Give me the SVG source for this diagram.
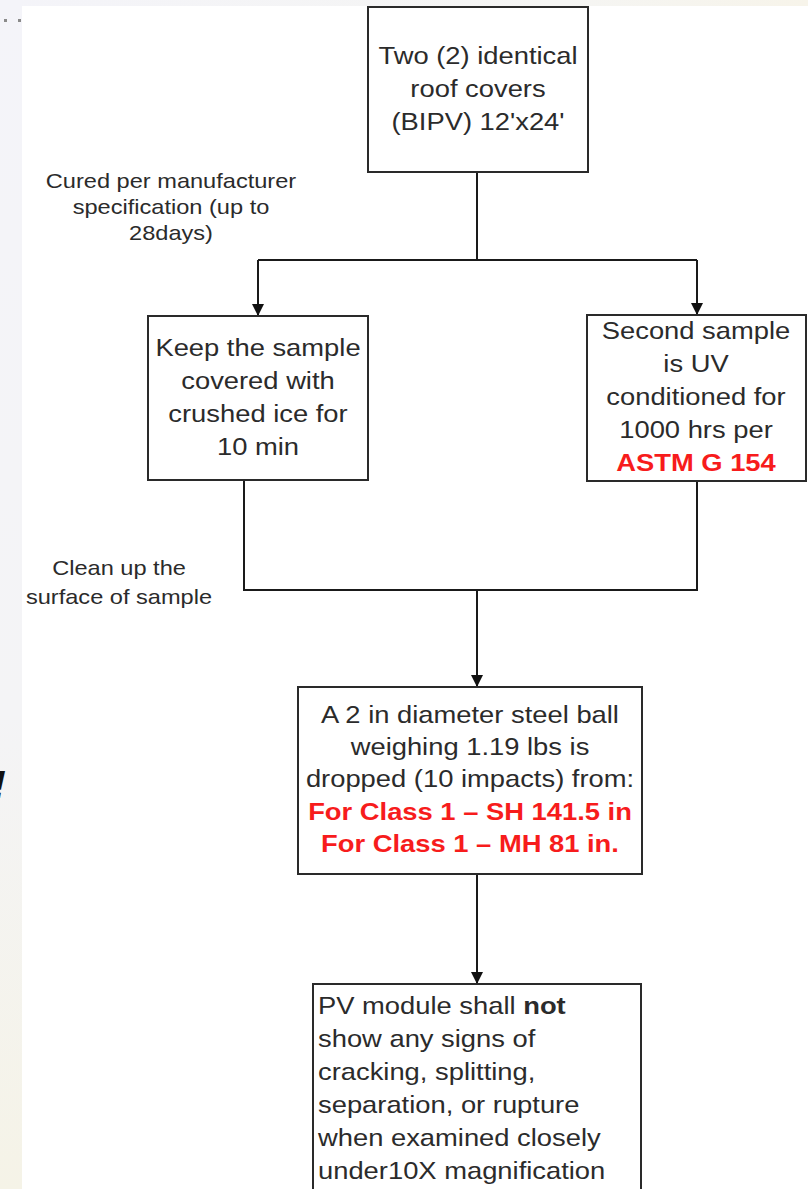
<svg xmlns="http://www.w3.org/2000/svg" width="808" height="1189" viewBox="0 0 808 1189">
<defs>
<linearGradient id="leftbg" x1="0" y1="0" x2="0" y2="1">
<stop offset="0" stop-color="#f4f4f9"/>
<stop offset="0.6" stop-color="#f4f4f6"/>
<stop offset="1" stop-color="#f5f3e7"/>
</linearGradient>
<linearGradient id="topbg" x1="0" y1="0" x2="1" y2="0">
<stop offset="0" stop-color="#f4f4f9"/>
<stop offset="0.7" stop-color="#f5f5f3"/>
<stop offset="1" stop-color="#f7f4ea"/>
</linearGradient>
<marker id="arrow" viewBox="0 0 12 12" refX="12" refY="6" markerWidth="12" markerHeight="12" markerUnits="userSpaceOnUse" orient="auto">
<path d="M0,0 L12,6 L0,12 Z" fill="#111"/>
</marker>
</defs>
<style>
.box{fill:#fff;stroke:#2a2a2a;stroke-width:2}
.t{font-family:"Liberation Sans",Arial,sans-serif;font-size:24px;fill:#2b2b2b}
.c{text-anchor:middle}
.lbl{font-family:"Liberation Sans",Arial,sans-serif;font-size:20px;fill:#2b2b2b;text-anchor:middle}
.red{fill:#f71c1c;font-weight:bold}
.conn{fill:none;stroke:#1a1a1a;stroke-width:2}
</style>
<rect x="0" y="0" width="808" height="1189" fill="#fff"/>
<rect x="0" y="0" width="808" height="6" fill="url(#topbg)"/>
<rect x="0" y="0" width="22" height="1189" fill="url(#leftbg)"/>
<rect x="4" y="19" width="3" height="3" fill="#8a8a8a"/>
<rect x="18" y="19" width="3" height="3" fill="#8a8a8a"/>
<text x="-7" y="798" font-family="Liberation Sans,Arial,sans-serif" font-size="38" font-weight="bold" font-style="italic" fill="#111">!</text>

<g id="connectors">
<path class="conn" d="M477,172 V260"/>
<path class="conn" d="M258,260 H697"/>
<path class="conn" d="M258,260 V316" marker-end="url(#arrow)"/>
<path class="conn" d="M697,260 V315" marker-end="url(#arrow)"/>
<path class="conn" d="M244,480 V590 H697 V481"/>
<path class="conn" d="M477,590 V687" marker-end="url(#arrow)"/>
<path class="conn" d="M477,874 V984" marker-end="url(#arrow)"/>
</g>

<g id="label-cured">
<g transform="translate(171,0) scale(1.18,1)">
<text class="lbl" x="0" y="188">Cured per manufacturer</text>
<text class="lbl" x="0" y="214">specification (up to</text>
<text class="lbl" x="0" y="240">28days)</text>
</g>
</g>

<g id="label-clean">
<g transform="translate(119,0) scale(1.18,1)">
<text class="lbl" x="0" y="575">Clean up the</text>
<text class="lbl" x="0" y="604">surface of sample</text>
</g>
</g>

<g id="node-start">
<rect class="box" x="368" y="7" width="220" height="165"/>
<g transform="translate(478,0) scale(1.14,1)">
<text class="t c" x="0" y="64">Two (2) identical</text>
<text class="t c" x="0" y="97">roof covers</text>
<text class="t c" x="0" y="130">(BIPV) 12'x24'</text>
</g>
</g>

<g id="node-ice">
<rect class="box" x="148" y="316" width="220" height="164"/>
<g transform="translate(258,0) scale(1.14,1)">
<text class="t c" x="0" y="356">Keep the sample</text>
<text class="t c" x="0" y="389">covered with</text>
<text class="t c" x="0" y="422">crushed ice for</text>
<text class="t c" x="0" y="455">10 min</text>
</g>
</g>

<g id="node-uv">
<rect class="box" x="587" y="315" width="219" height="166"/>
<g transform="translate(696,0) scale(1.14,1)">
<text class="t c" x="0" y="339">Second sample</text>
<text class="t c" x="0" y="372">is UV</text>
<text class="t c" x="0" y="405">conditioned for</text>
<text class="t c" x="0" y="438">1000 hrs per</text>
<text class="t c red" x="0" y="471">ASTM G 154</text>
</g>
</g>

<g id="node-impact">
<rect class="box" x="298" y="687" width="344" height="187"/>
<g transform="translate(470,0) scale(1.14,1)">
<text class="t c" x="0" y="723">A 2 in diameter steel ball</text>
<text class="t c" x="0" y="755">weighing 1.19 lbs is</text>
<text class="t c" x="0" y="787">dropped (10 impacts) from:</text>
<text class="t c red" x="0" y="820">For Class 1 – SH 141.5 in</text>
<text class="t c red" x="0" y="852">For Class 1 – MH 81 in.</text>
</g>
</g>

<g id="node-result">
<rect class="box" x="313" y="984" width="328" height="230"/>
<g transform="translate(318,0) scale(1.14,1)">
<text class="t" x="0" y="1014">PV module shall <tspan font-weight="bold">not</tspan></text>
<text class="t" x="0" y="1047">show any signs of</text>
<text class="t" x="0" y="1080">cracking, splitting,</text>
<text class="t" x="0" y="1113">separation, or rupture</text>
<text class="t" x="0" y="1146">when examined closely</text>
<text class="t" x="0" y="1179">under10X magnification</text>
</g>
</g>
</svg>
